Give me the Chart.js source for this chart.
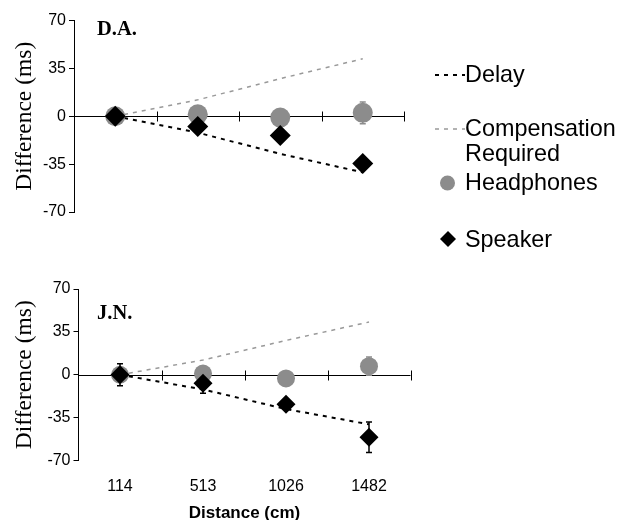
<!DOCTYPE html>
<html>
<head>
<meta charset="utf-8">
<script src="https://cdn.jsdelivr.net/npm/chart.js@4.4.1/dist/chart.umd.min.js"></script>
<style>
  body { margin: 0; background: #fff; overflow: hidden; width: 627px; height: 520px; position: relative; font-family: "Liberation Sans", Arial, sans-serif; }
  .panel { position: absolute; left: 0; }
  .tag { position: absolute; font: bold 20.5px/1 "Liberation Serif", serif; color: #000; }
  .leg { position: absolute; left: 465px; font-size: 23.4px; line-height: 1; color: #000; white-space: nowrap; }
  svg { position: absolute; left: 0; top: 0; }
</style>
</head>
<body>
<div class="panel" style="top:0"><canvas id="da" width="420" height="235"></canvas></div>
<div class="panel" style="top:270px"><canvas id="jn" width="420" height="256"></canvas></div>
<div class="tag" style="left:97px;top:18px">D.A.</div>
<div class="tag" style="left:97px;top:302px">J.N.</div>

<svg width="627" height="520">
  <line x1="435" y1="75" x2="465" y2="75" stroke="#000" stroke-width="2" stroke-dasharray="4 5"/>
  <line x1="435" y1="129" x2="465" y2="129" stroke="#999" stroke-width="1.5" stroke-dasharray="4 5"/>
  <circle cx="447.5" cy="183" r="7.5" fill="#8c8c8c"/>
  <polygon points="440,239 448,231 456,239 448,247" fill="#000"/>
</svg>
<div class="leg" style="top:63.4px">Delay</div>
<div class="leg" style="top:116.7px">Compensation</div>
<div class="leg" style="top:142px">Required</div>
<div class="leg" style="top:171px">Headphones</div>
<div class="leg" style="top:227.5px">Speaker</div>

<script>
const distances = ["114", "513", "1026", "1482"];
const yTicks = [-70, -35, 0, 35, 70];

// D.A.
const delayDA = [0, -12, -27.5, -41];
const compDA = [0, 12, 27.5, 42];
const headDA = [0, 1.5, -1, 2.5];
const headErrDA = [0, 0, 0, 8];
const speakDA = [0, -7.5, -14, -34.5];
const speakErrDA = [2, 0, 0, 0];

// J.N.
const delayJN = [0, -12, -28, -40.5];
const compJN = [0, 12, 28, 43];
const headJN = [0, 1, -3, 7];
const headErrJN = [0, 0, 0, 7.5];
const speakJN = [0, -7, -24, -51];
const speakErrJN = [9, 8, 0, 12.5];

// horizontal line at 0 with ticks crossing it between categories
const zeroAxis = {
  id: "zeroAxis",
  beforeDatasetsDraw(chart) {
    const { ctx, chartArea, scales: { x, y } } = chart;
    const y0 = Math.round(y.getPixelForValue(0)) + 0.5;
    const half = (x.getPixelForValue(1) - x.getPixelForValue(0)) / 2;
    const right = x.getPixelForValue(distances.length - 1) + half;
    ctx.save();
    ctx.strokeStyle = "#000";
    ctx.lineWidth = 1;
    ctx.beginPath();
    ctx.moveTo(chartArea.left, y0);
    ctx.lineTo(right, y0);
    for (let i = 0; i < distances.length; i++) {
      const bx = Math.round(x.getPixelForValue(i) + half) + 0.5;
      ctx.moveTo(bx, y0 - 5);
      ctx.lineTo(bx, y0 + 5);
    }
    ctx.stroke();
    ctx.restore();
  }
};

const errorBars = {
  id: "errorBars",
  beforeDatasetsDraw(chart) {
    const { ctx, scales: { x, y } } = chart;
    chart.data.datasets.forEach(ds => {
      if (!ds.errors) return;
      ctx.save();
      ctx.strokeStyle = ds.errorColor;
      ctx.lineWidth = 1.5;
      ds.data.forEach((v, i) => {
        const e = ds.errors[i];
        if (!e) return;
        const px = x.getPixelForValue(i);
        const top = y.getPixelForValue(v + e);
        const bot = y.getPixelForValue(v - e);
        ctx.beginPath();
        ctx.moveTo(px, top); ctx.lineTo(px, bot);
        ctx.moveTo(px - 3, top); ctx.lineTo(px + 3, top);
        ctx.moveTo(px - 3, bot); ctx.lineTo(px + 3, bot);
        ctx.stroke();
      });
      ctx.restore();
    });
  }
};

function makePanel(id, delay, comp, head, headErr, speak, speakErr, opt) {
  new Chart(document.getElementById(id), {
    type: "line",
    data: {
      labels: distances,
      datasets: [
        { label: "Speaker", data: speak, errors: speakErr, errorColor: "#000", showLine: false,
          pointStyle: "rectRot", pointRadius: opt.r + 0.5, backgroundColor: "#000", borderWidth: 0 },
        { label: "Headphones", data: head, errors: headErr, errorColor: "#8c8c8c", showLine: false,
          pointStyle: "circle", pointRadius: opt.r, backgroundColor: "#8c8c8c", borderWidth: 0 },
        { label: "Delay", data: delay, borderColor: "#000", borderWidth: 2, borderDash: [4, 5],
          pointRadius: 0, tension: 0, fill: false },
        { label: "Compensation Required", data: comp, borderColor: "#999", borderWidth: 1.5, borderDash: [4, 5],
          pointRadius: 0, tension: 0, fill: false }
      ]
    },
    options: {
      responsive: false,
      animation: false,
      events: [],
      layout: { padding: opt.padding },
      plugins: { legend: { display: false }, tooltip: { enabled: false } },
      scales: {
        x: {
          type: "category",
          offset: true,
          display: opt.showX,
          afterFit: s => { if (opt.xHeight) s.height = opt.xHeight; },
          grid: { display: false, drawTicks: false },
          border: { display: false },
          ticks: { color: "#000", padding: 16, font: { family: "Liberation Sans", size: 16 } },
          title: { display: true, text: "Distance (cm)", color: "#000", padding: 0,
            font: { family: "Liberation Sans", size: 17, weight: "bold" } }
        },
        y: {
          min: -70,
          max: 70,
          afterBuildTicks: s => { s.ticks = yTicks.map(v => ({ value: v })); },
          afterFit: s => { s.width = opt.left; },
          grid: { drawOnChartArea: false, drawTicks: true, tickLength: 5, color: "#000" },
          border: { display: true, color: "#000", width: 1 },
          ticks: { color: "#000", padding: 3, font: { family: "Liberation Sans", size: 16 } },
          title: { display: true, text: "Difference (ms)", color: "#000", padding: { top: 11, bottom: 0 },
            font: { family: "Liberation Serif", size: 23.5 } }
        }
      }
    },
    plugins: [zeroAxis, errorBars]
  });
}

makePanel("da", delayDA, compDA, headDA, headErrDA, speakDA, speakErrDA,
  { r: 10, left: 74, showX: false, padding: { left: 0, top: 20.5, right: 16, bottom: 23 } });
makePanel("jn", delayJN, compJN, headJN, headErrJN, speakJN, speakErrJN,
  { r: 9, left: 78.5, showX: true, xHeight: 62.7, padding: { left: 0, top: 19, right: 7, bottom: 2.8 } });
</script>
</body>
</html>
